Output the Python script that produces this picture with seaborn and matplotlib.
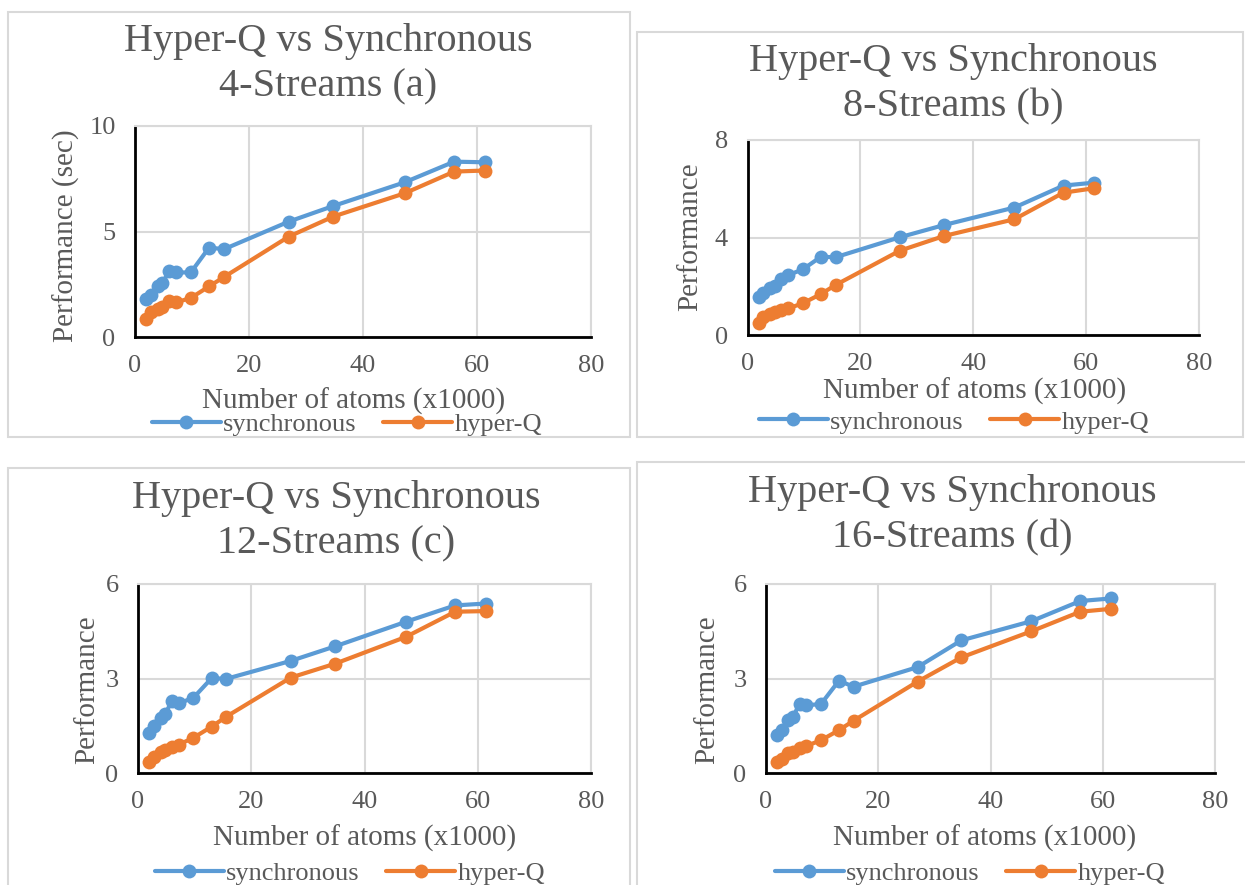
import matplotlib
matplotlib.use("Agg")
import matplotlib.pyplot as plt
import seaborn as sns
import pandas as pd
from matplotlib.patches import Rectangle

# ---------------- data ----------------
atoms = [2.0, 2.8, 4.0, 4.8, 6.0, 7.2, 9.8, 13.0, 15.6, 27.0, 34.8, 47.3, 56.0, 61.4]

sync_4 = [1.81, 2.00, 2.44, 2.56, 3.11, 3.06, 3.06, 4.24, 4.16, 5.47, 6.21, 7.33, 8.31, 8.28]
hyper_4 = [0.87, 1.17, 1.32, 1.40, 1.69, 1.64, 1.85, 2.40, 2.84, 4.76, 5.71, 6.81, 7.84, 7.89]

sync_8 = [1.57, 1.74, 1.92, 2.01, 2.30, 2.46, 2.69, 3.21, 3.19, 4.01, 4.51, 5.23, 6.13, 6.25]
hyper_8 = [0.51, 0.73, 0.86, 0.93, 1.03, 1.09, 1.30, 1.68, 2.05, 3.46, 4.06, 4.75, 5.84, 6.02]

sync_12 = [1.26, 1.50, 1.76, 1.86, 2.30, 2.21, 2.39, 3.01, 2.99, 3.56, 4.02, 4.80, 5.32, 5.38]
hyper_12 = [0.35, 0.51, 0.67, 0.72, 0.83, 0.90, 1.12, 1.47, 1.79, 3.03, 3.47, 4.32, 5.12, 5.14]

sync_16 = [1.22, 1.38, 1.68, 1.79, 2.19, 2.15, 2.19, 2.93, 2.74, 3.36, 4.21, 4.82, 5.46, 5.54]
hyper_16 = [0.35, 0.46, 0.62, 0.67, 0.78, 0.86, 1.04, 1.36, 1.66, 2.90, 3.67, 4.50, 5.12, 5.21]

series_names = ["synchronous", "hyper-Q"]
titles = ["Hyper-Q vs Synchronous\n4-Streams (a)",
          "Hyper-Q vs Synchronous\n8-Streams (b)",
          "Hyper-Q vs Synchronous\n12-Streams (c)",
          "Hyper-Q vs Synchronous\n16-Streams (d)"]
ylabels = ["Performance (sec)", "Performance", "Performance", "Performance"]
xlabel = "Number of atoms (x1000)"
xticks = [0, 20, 40, 60, 80]
yticks_list = [[0, 5, 10], [0, 4, 8], [0, 3, 6], [0, 3, 6]]

panels = [(sync_4, hyper_4), (sync_8, hyper_8), (sync_12, hyper_12), (sync_16, hyper_16)]

# ---------------- style ----------------
sns.set_theme(style="white")
plt.rcParams["font.family"] = ["Liberation Serif", "DejaVu Serif"]
TXT = "#595959"
GRID = "#d9d9d9"
palette = {"synchronous": "#5B9BD5", "hyper-Q": "#ED7D31"}

W, H = 1245, 885
fig = plt.figure(figsize=(W / 100, H / 100), dpi=100)

def fx(px):
    return px / W

def fy(py):
    return 1 - py / H

# layout in pixels
boxes = [(8, 12, 630, 437), (637, 32, 1243, 437), (8, 468, 630, 890), (637, 462, 1250, 890)]
axes_px = [(135, 126, 591, 337), (747.5, 140, 1199, 335), (138, 584, 591, 773), (766, 584, 1215, 773)]
title_xy = [(328, 64), (953, 84), (336, 521), (952, 515)]
ylabel_xy = [(66, 236), (690, 237), (87, 690), (707, 690)]
xlabel_xy = [(354, 401), (975, 391), (365, 838), (985, 838)]
legend_xy = [(347, 424), (954, 422), (350, 873), (970, 873)]

for i, (s, h) in enumerate(panels):
    bx0, by0, bx1, by1 = boxes[i]
    fig.patches.append(Rectangle((fx(bx0), fy(by1)), fx(bx1) - fx(bx0), fy(by0) - fy(by1),
                                 transform=fig.transFigure, fill=False,
                                 edgecolor=GRID, linewidth=1.5, zorder=0))
    l, t, r, b = axes_px[i]
    ax = fig.add_axes([fx(l), fy(b), fx(r) - fx(l), fy(t) - fy(b)])
    df = pd.DataFrame({
        "atoms": atoms * 2,
        "perf": list(s) + list(h),
        "series": [series_names[0]] * len(atoms) + [series_names[1]] * len(atoms),
    })
    sns.lineplot(data=df, x="atoms", y="perf", hue="series", palette=palette,
                 marker="o", markersize=10, markeredgewidth=0, linewidth=3.0,
                 sort=False, ax=ax, legend=True)
    for ln in ax.lines:
        ln.set_clip_on(False)
    yt = yticks_list[i]
    ax.set_xlim(0, 80)
    ax.set_ylim(yt[0], yt[-1])
    ax.set_xticks(xticks)
    ax.set_yticks(yt)
    ax.tick_params(axis="both", length=0, labelsize=19, labelcolor=TXT)
    ax.tick_params(axis="x", pad=13)
    ax.tick_params(axis="y", pad=14)
    ax.grid(True, color=GRID, linewidth=1.5)
    ax.set_axisbelow(True)
    for sp in ["top", "right"]:
        ax.spines[sp].set_color(GRID)
        ax.spines[sp].set_linewidth(1.5)
    for sp in ["left", "bottom"]:
        ax.spines[sp].set_color("black")
        ax.spines[sp].set_linewidth(2)
    ax.set_xlabel("")
    ax.set_ylabel("")
    handles, labels = ax.get_legend_handles_labels()
    ax.get_legend().remove()
    fig.legend(handles, labels, loc="center",
               bbox_to_anchor=(fx(legend_xy[i][0]), fy(legend_xy[i][1])),
               ncol=2, frameon=False, fontsize=19, labelcolor=TXT,
               handlelength=2.6, handletextpad=0.1, columnspacing=1.0,
               borderaxespad=0, borderpad=0)
    fig.text(fx(title_xy[i][0]), fy(title_xy[i][1]), titles[i], ha="center", va="center",
             fontsize=29, color=TXT, linespacing=1.3)
    fig.text(fx(ylabel_xy[i][0]), fy(ylabel_xy[i][1]), ylabels[i], ha="center", va="center",
             rotation=90, fontsize=21, color=TXT)
    fig.text(fx(xlabel_xy[i][0]), fy(xlabel_xy[i][1]), xlabel, ha="center", va="center",
             fontsize=21, color=TXT)

fig.savefig("out.png", dpi=100, facecolor="white")
